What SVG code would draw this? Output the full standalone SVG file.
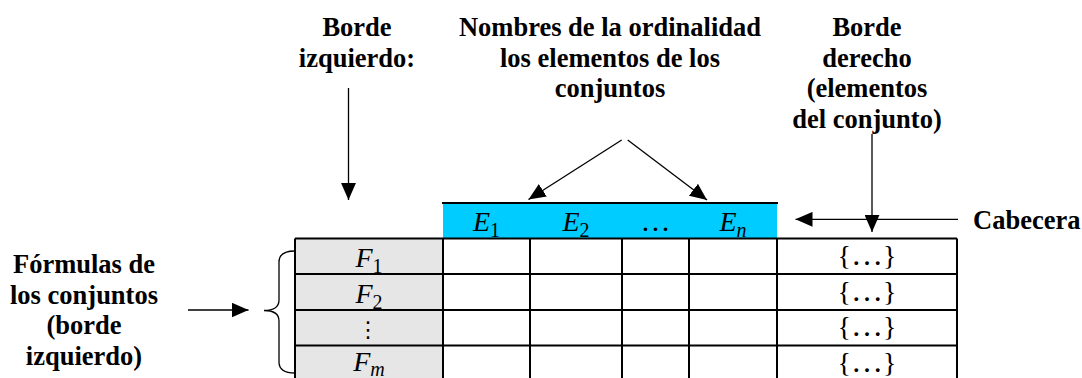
<svg xmlns="http://www.w3.org/2000/svg" width="1082" height="378" viewBox="0 0 1082 378">
<style>
.lbl{font-family:"Liberation Serif","Times New Roman",serif;font-weight:bold;font-size:26.5px;fill:#000;text-anchor:middle}
.math{font-family:"Liberation Serif","Times New Roman",serif;font-style:italic;font-size:28px;fill:#000;text-anchor:middle}
.sub{font-size:20px}
.up{font-style:normal}
.grid{stroke:#000;stroke-width:2;fill:none}
.conn{stroke:#000;stroke-width:1.3;fill:none;marker-end:url(#ah)}
</style>
<defs>
<marker id="ah" markerUnits="userSpaceOnUse" markerWidth="17" markerHeight="15" refX="16" refY="7" orient="auto" viewBox="0 0 16 14">
<path d="M0,0 L16,7 L0,14 z" fill="#000"/>
</marker>
</defs>
<rect width="1082" height="378" fill="#fff"/>

<g id="header">
<rect x="443" y="203" width="334" height="35.5" fill="#00ccff"/>
<line x1="442" y1="203" x2="778" y2="203" stroke="#000" stroke-width="2.2"/>
<text class="math" x="486.5" y="231">E<tspan class="sub up" dy="6">1</tspan></text>
<text class="math" x="576" y="231">E<tspan class="sub up" dy="6">2</tspan></text>
<text class="math up" x="655.5" y="231" style="font-size:30px">…</text>
<text class="math" x="733" y="231">E<tspan class="sub" dy="6">n</tspan></text>
</g>

<g id="table">
<rect x="295" y="238.5" width="148" height="150" fill="#e6e6e6"/>
<path class="grid" d="M295,238.5 H957 M295,274 H957 M295,310 H957 M295,345.5 H957 M295,238.5 V390 M443,238.5 V390 M530,238.5 V390 M622,238.5 V390 M689,238.5 V390 M777,238.5 V390 M957,238.5 V390"/>
<text class="math" x="369" y="266.7">F<tspan class="sub up" dy="6">1</tspan></text>
<text class="math" x="369" y="302.7">F<tspan class="sub up" dy="6">2</tspan></text>
<text class="math up" x="368" y="337" style="font-family:'DejaVu Sans',sans-serif;font-size:22px">⋮</text>
<text class="math" x="369" y="371">F<tspan class="sub" dy="5">m</tspan></text>
<text class="math up" x="867" y="265" style="font-size:28px">{<tspan style="font-size:32px">…</tspan>}</text>
<text class="math up" x="867" y="300.5" style="font-size:28px">{<tspan style="font-size:32px">…</tspan>}</text>
<text class="math up" x="867" y="336" style="font-size:28px">{<tspan style="font-size:32px">…</tspan>}</text>
<text class="math up" x="867" y="371.5" style="font-size:28px">{<tspan style="font-size:32px">…</tspan>}</text>
</g>

<g id="brace">
<path d="M295,251 Q279,251 279,262 L279,300 Q279,310.5 264,310.5 Q279,310.5 279,321 L279,362 Q279,373 295,373" fill="none" stroke="#000" stroke-width="1.3"/>
</g>

<g id="label-borde-izquierdo">
<text class="lbl" x="357" y="36">Borde</text>
<text class="lbl" x="357" y="67">izquierdo:</text>
</g>

<g id="label-nombres">
<text class="lbl" x="610" y="36">Nombres de la ordinalidad</text>
<text class="lbl" x="610" y="67">los elementos de los</text>
<text class="lbl" x="610" y="97">conjuntos</text>
</g>

<g id="label-borde-derecho">
<text class="lbl" x="867" y="36">Borde</text>
<text class="lbl" x="867" y="66.5">derecho</text>
<text class="lbl" x="867" y="97">(elementos</text>
<text class="lbl" x="867" y="127.5">del conjunto)</text>
</g>

<g id="label-cabecera">
<text class="lbl" x="973" y="229" style="text-anchor:start">Cabecera</text>
</g>

<g id="label-formulas">
<text class="lbl" x="84" y="273">Fórmulas de</text>
<text class="lbl" x="84" y="303.5">los conjuntos</text>
<text class="lbl" x="84" y="334">(borde</text>
<text class="lbl" x="84" y="364.5">izquierdo)</text>
</g>

<g id="connectors">
<line class="conn" x1="348.5" y1="88" x2="348.5" y2="200"/>
<line class="conn" x1="621.7" y1="140" x2="528.5" y2="199.5"/>
<line class="conn" x1="627.7" y1="140" x2="707" y2="200"/>
<line class="conn" x1="958" y1="219.3" x2="795.5" y2="219.3"/>
<line class="conn" x1="872" y1="134" x2="872" y2="232"/>
<line class="conn" x1="188" y1="310" x2="248.5" y2="310"/>
</g>
</svg>
